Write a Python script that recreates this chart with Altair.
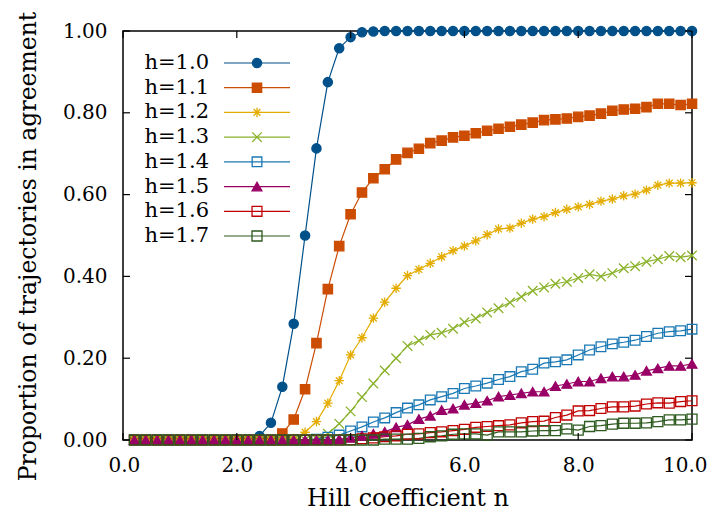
import altair as alt
import pandas as pd

# ---------------- data ----------------
n_values = [0.2, 0.4, 0.6, 0.8, 1.0, 1.2, 1.4, 1.6, 1.8, 2.0,
            2.2, 2.4, 2.6, 2.8, 3.0, 3.2, 3.4, 3.6, 3.8, 4.0,
            4.2, 4.4, 4.6, 4.8, 5.0, 5.2, 5.4, 5.6, 5.8, 6.0,
            6.2, 6.4, 6.6, 6.8, 7.0, 7.2, 7.4, 7.6, 7.8, 8.0,
            8.2, 8.4, 8.6, 8.8, 9.0, 9.2, 9.4, 9.6, 9.8, 10.0]

h10 = [0.0] * 11 + [0.01, 0.042, 0.13, 0.284, 0.50, 0.713, 0.875, 0.958, 0.985, 0.997, 0.999] + [1.0] * 28
h11 = [0.0] * 13 + [0.016, 0.05, 0.124, 0.237, 0.369, 0.474, 0.552, 0.605, 0.64, 0.662,
                    0.686, 0.702, 0.712, 0.726, 0.732, 0.740, 0.744, 0.75, 0.756, 0.761,
                    0.766, 0.771, 0.776, 0.782, 0.784, 0.786, 0.79, 0.793, 0.798, 0.805,
                    0.808, 0.81, 0.814, 0.822, 0.822, 0.819, 0.822]
h12 = [0.0] * 14 + [0.004, 0.019, 0.045, 0.09, 0.145, 0.208, 0.25, 0.298, 0.337, 0.371,
                    0.402, 0.417, 0.432, 0.448, 0.463, 0.474, 0.487, 0.502, 0.516, 0.518,
                    0.53, 0.54, 0.546, 0.556, 0.564, 0.57, 0.576, 0.584, 0.589, 0.597,
                    0.601, 0.611, 0.623, 0.628, 0.628, 0.629]
h13 = [0.0] * 16 + [0.003, 0.015, 0.04, 0.07, 0.105, 0.138, 0.17, 0.2, 0.23, 0.243,
                    0.257, 0.262, 0.272, 0.288, 0.297, 0.312, 0.322, 0.336, 0.35, 0.365,
                    0.373, 0.382, 0.387, 0.396, 0.405, 0.40, 0.408, 0.42, 0.425, 0.436,
                    0.442, 0.45, 0.447, 0.451]
h14 = [0.0] * 16 + [0.002, 0.007, 0.012, 0.022, 0.032, 0.044, 0.054, 0.067, 0.078, 0.086,
                    0.098, 0.106, 0.114, 0.126, 0.132, 0.139, 0.148, 0.155, 0.167, 0.173,
                    0.188, 0.191, 0.196, 0.208, 0.22, 0.228, 0.235, 0.239, 0.244, 0.253,
                    0.261, 0.265, 0.267, 0.271]
h15 = [0.0] * 18 + [0.002, 0.005, 0.01, 0.015, 0.02, 0.031, 0.037, 0.051, 0.059, 0.073,
                    0.077, 0.086, 0.09, 0.096, 0.106, 0.11, 0.114, 0.118, 0.118, 0.132,
                    0.137, 0.143, 0.143, 0.151, 0.155, 0.155, 0.159, 0.169, 0.175, 0.181,
                    0.181, 0.186]
h16 = [0.0] * 19 + [0.001, 0.003, 0.005, 0.008, 0.01, 0.014, 0.015, 0.018, 0.02, 0.023,
                    0.026, 0.031, 0.033, 0.035, 0.037, 0.042, 0.045, 0.046, 0.055, 0.061,
                    0.071, 0.072, 0.077, 0.081, 0.081, 0.083, 0.088, 0.091, 0.09, 0.094,
                    0.096]
h17 = [0.0] * 22 + [0.002, 0.002, 0.002, 0.004, 0.008, 0.01, 0.014, 0.015, 0.015, 0.012,
                    0.02, 0.02, 0.02, 0.022, 0.023, 0.023, 0.027, 0.024, 0.033, 0.035,
                    0.039, 0.041, 0.041, 0.042, 0.045, 0.049, 0.049, 0.051]

series_names = ["h=1.0", "h=1.1", "h=1.2", "h=1.3", "h=1.4", "h=1.5", "h=1.6", "h=1.7"]
series_values = [h10, h11, h12, h13, h14, h15, h16, h17]

x_tick_values = [0, 2, 4, 6, 8, 10]
y_tick_values = [0.0, 0.2, 0.4, 0.6, 0.8, 1.0]

# ---------------- styles ----------------
colors = ["#00508a", "#cc4c02", "#e4ac00", "#8ab22b", "#1a78b4", "#990066", "#c00000", "#2d5a1e"]
fills = ["#00508a", "#cc4c02", "transparent", "transparent", "transparent", "#990066", "transparent", "transparent"]
ASTERISK = "M-1,0L1,0M0,-1L0,1M-0.72,-0.72L0.72,0.72M-0.72,0.72L0.72,-0.72"
XMARK = "M-1,-1L1,1M-1,1L1,-1"
shapes = ["circle", "square", ASTERISK, XMARK, "square", "triangle-up", "square", "square"]
sizes = [85, 100, 160, 130, 120, 95, 45, 45]

FONT = "DejaVu Serif"
W, H = 569, 409

rows = []
for name, vals in zip(series_names, series_values):
    for n, v in zip(n_values, vals):
        rows.append({"n": n, "p": v, "series": name})
df = pd.DataFrame(rows)

xt_df = pd.DataFrame({"n": x_tick_values})
yt_df = pd.DataFrame({"p": y_tick_values})
leg_df = pd.DataFrame({"series": series_names, "row": list(range(len(series_names)))})

x_scale = alt.Scale(domain=[0, 10], nice=False, zero=False, padding=0)
y_scale = alt.Scale(domain=[0, 1], nice=False, zero=False, padding=0)
color_scale = alt.Scale(domain=series_names, range=colors)
fill_scale = alt.Scale(domain=series_names, range=fills)
shape_scale = alt.Scale(domain=series_names, range=shapes)
size_scale = alt.Scale(domain=series_names, range=sizes)

x_axis = alt.Axis(values=x_tick_values, format=".1f", title="Hill coefficient n",
                  titleY=65, titleBaseline="alphabetic", labelPadding=15,
                  labelFlush=True, labelFlushOffset=15)
y_axis = alt.Axis(values=y_tick_values, format=".2f", title="Proportion of trajectories in agreement",
                  titleX=-88, titleY=215, titleBaseline="alphabetic", titleFontSize=23.5,
                  labelPadding=16)

X = alt.X("n:Q", scale=x_scale, axis=x_axis)
Y = alt.Y("p:Q", scale=y_scale, axis=y_axis)

lines = alt.Chart(df).mark_line(strokeWidth=1.2).encode(
    x=X, y=Y,
    color=alt.Color("series:N", scale=color_scale, legend=None),
)

points = alt.Chart(df).mark_point(filled=False, strokeWidth=1.3, opacity=1).encode(
    x=X, y=Y,
    color=alt.Color("series:N", scale=color_scale, legend=None),
    fill=alt.Fill("series:N", scale=fill_scale, legend=None),
    shape=alt.Shape("series:N", scale=shape_scale, legend=None),
    size=alt.Size("series:N", scale=size_scale, legend=None),
)

tick_bottom = alt.Chart(xt_df).mark_rule(color="black", strokeWidth=1.2).encode(
    x=X, y=alt.value(H), y2=alt.value(H - 7))
tick_top = alt.Chart(xt_df).mark_rule(color="black", strokeWidth=1.2).encode(
    x=X, y=alt.value(0), y2=alt.value(7))
tick_left = alt.Chart(yt_df).mark_rule(color="black", strokeWidth=1.2).encode(
    y=Y, x=alt.value(0), x2=alt.value(7))
tick_right = alt.Chart(yt_df).mark_rule(color="black", strokeWidth=1.2).encode(
    y=Y, x=alt.value(W), x2=alt.value(W - 7))

data_layer = alt.layer(lines, points, tick_bottom, tick_top, tick_left, tick_right)

leg_y = alt.Y("row:Q", scale=alt.Scale(domain=[0, 7], range=[32, 205], zero=False, nice=False), axis=None)
leg_text = alt.Chart(leg_df).mark_text(align="right", baseline="middle", font=FONT, fontSize=21,
                                       color="black").encode(
    x=alt.value(86), y=leg_y, text="series:N")
leg_rule = alt.Chart(leg_df).mark_rule(strokeWidth=1.2).encode(
    x=alt.value(101), x2=alt.value(167), y=leg_y,
    color=alt.Color("series:N", scale=color_scale, legend=None))
leg_pts = alt.Chart(leg_df).mark_point(filled=False, strokeWidth=1.3, opacity=1).encode(
    x=alt.value(134), y=leg_y,
    color=alt.Color("series:N", scale=color_scale, legend=None),
    fill=alt.Fill("series:N", scale=fill_scale, legend=None),
    shape=alt.Shape("series:N", scale=shape_scale, legend=None),
    size=alt.Size("series:N", scale=size_scale, legend=None),
)
legend_layer = alt.layer(leg_text, leg_rule, leg_pts)

chart = alt.layer(data_layer, legend_layer).resolve_scale(y="independent").properties(
    width=W, height=H,
    autosize=alt.AutoSizeParams(type="none"),
    padding={"left": 115, "top": 23, "right": 17, "bottom": 70},
).configure_view(
    stroke="black", strokeWidth=1.5
).configure_axis(
    domain=False, ticks=False, grid=False,
    labelFont=FONT, labelFontSize=20, labelColor="black",
    titleFont=FONT, titleFontSize=24, titleFontWeight="normal", titleColor="black",
)

chart.save("out.html", embed_options={"renderer": "svg", "actions": False})
